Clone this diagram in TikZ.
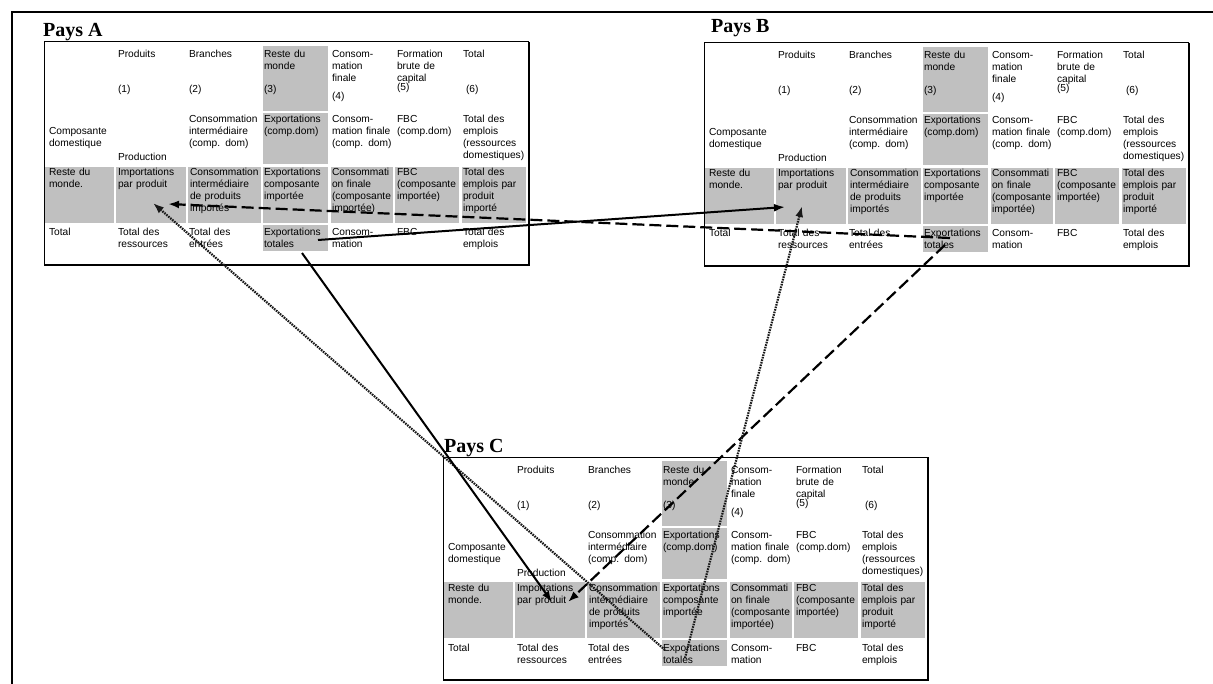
\documentclass[tikz,border=0pt]{standalone}
\usepackage{fontspec}
\setmainfont{Liberation Sans}
\newfontfamily\titlefont{Liberation Serif}
\usetikzlibrary{arrows.meta,calc}
\definecolor{cellgray}{RGB}{192,192,192}
\tikzset{
  cell/.style={fill=cellgray, draw=none, inner sep=0pt, outer sep=0pt, anchor=north west},
  txt/.style={inner sep=0pt, outer sep=0pt, anchor=base west, text width=90pt, align=left, font=\fontsize{10.2}{12}\selectfont},
  paystitle/.style={inner sep=0pt, anchor=base west, font=\titlefont\bfseries\fontsize{20}{23}\selectfont},
  solidarrow/.style={line width=2pt, -{Latex[length=11pt,width=8pt]}},
  dasharrow/.style={line width=2.2pt, dash pattern=on 12pt off 5pt, -{Latex[length=11pt,width=8pt]}},
  dotarrow/.style={line width=2.2pt, black!90, dash pattern=on 1.6pt off 1pt, -{Latex[length=11pt,width=8pt]}},
}
\newcommand\paystab[3]{%
\begin{scope}[shift={(#2,#3)}]
  % gray cells
  \node[cell, minimum width=65pt, minimum height=65pt] (#1-gh3) at (219,4) {};
  \node[cell, minimum width=65pt, minimum height=51pt] (#1-gd3) at (219,71) {};
  \node[cell, minimum width=69pt, minimum height=56pt] (#1-gr0) at (1,125) {};
  \node[cell, minimum width=70pt, minimum height=56pt] (#1-imp) at (72,125) {};
  \node[cell, minimum width=73pt, minimum height=56pt] (#1-gr2) at (144,125) {};
  \node[cell, minimum width=65pt, minimum height=56pt] (#1-gr3) at (219,125) {};
  \node[cell, minimum width=62pt, minimum height=56pt] (#1-gr4) at (287,125) {};
  \node[cell, minimum width=64pt, minimum height=56pt] (#1-gr5) at (351,125) {};
  \node[cell, minimum width=64pt, minimum height=56pt] (#1-gr6) at (418,125) {};
  \node[cell, minimum width=65pt, minimum height=26pt] (#1-exp) at (219,183) {};
  % frame
  \draw[line width=1pt] (485,0) -- (0,0) -- (0,223);
  \draw[line width=2.5pt] (0,223) -- (485,223) -- (485,0);
  % header
  \node[txt] (#1-h1) at (74,16) {Produits};
  \node[txt] (#1-h2) at (145,16) {Branches};
  \node[txt] (#1-h3) at (220,16) {Reste du\\monde};
  \node[txt] (#1-h4) at (288,16) {Consom-\\mation\\finale};
  \node[txt] (#1-h5) at (353,16) {Formation\\brute de\\capital};
  \node[txt] (#1-h6) at (419,16) {Total};
  \node[txt] (#1-n1) at (74,51) {(1)};
  \node[txt] (#1-n2) at (145,51) {(2)};
  \node[txt] (#1-n3) at (220,51) {(3)};
  \node[txt] (#1-n4) at (288,58) {(4)};
  \node[txt] (#1-n5) at (353,49) {(5)};
  \node[txt] (#1-n6) at (422,51) {(6)};
  % domestic row
  \node[txt] (#1-d0) at (5,93) {Composante\\domestique};
  \node[txt] (#1-d1) at (74,119) {Production};
  \node[txt] (#1-d2) at (145,81) {Consommation\\intermédiaire\\(comp. dom)};
  \node[txt] (#1-d3) at (220,81) {Exportations\\(comp.dom)};
  \node[txt] (#1-d4) at (288,81) {Consom-\\mation finale\\(comp. dom)};
  \node[txt] (#1-d5) at (353,81) {FBC\\(comp.dom)};
  \node[txt] (#1-d6) at (419,81) {Total des\\emplois\\(ressources\\domestiques)};
  % rest of world row
  \node[txt] (#1-r0) at (5,134) {Reste du\\monde.};
  \node[txt] (#1-r1) at (74,134) {Importations\\par produit};
  \node[txt] (#1-r2) at (146,134) {Consommation\\intermédiaire\\de produits\\importés};
  \node[txt] (#1-r3) at (220,134) {Exportations\\composante\\importée};
  \node[txt] (#1-r4) at (288,134) {Consommati\\on finale\\(composante\\importée)};
  \node[txt] (#1-r5) at (353,134) {FBC\\(composante\\importée)};
  \node[txt] (#1-r6) at (419,134) {Total des\\emplois par\\produit\\importé};
  % total row
  \node[txt] (#1-s0) at (5,194) {Total};
  \node[txt] (#1-s1) at (74,194) {Total des\\ressources};
  \node[txt] (#1-s2) at (145,194) {Total des\\entrées};
  \node[txt] (#1-s3) at (220,194) {Exportations\\totales};
  \node[txt] (#1-s4) at (288,194) {Consom-\\mation};
  \node[txt] (#1-s5) at (353,194) {FBC};
  \node[txt] (#1-s6) at (419,194) {Total des\\emplois};
\end{scope}}
\begin{document}
\begin{tikzpicture}[x=1pt,y=-1pt]
  \useasboundingbox (0,0) rectangle (1213,684);
  \fill[white] (0,0) rectangle (1213,684);
  \draw[line width=2pt] (12,684) -- (12,12) -- (1213,12);

  \node[paystitle] (A-title) at (43,37) {Pays A};
  \node[paystitle] (B-title) at (711,33) {Pays B};
  \node[paystitle] (C-title) at (444,452) {Pays C};

  \paystab{A}{44}{42}
  \paystab{B}{704}{43}
  \paystab{C}{443}{457}

  \draw[solidarrow] ($(A-exp.north west)+(55,15)$) -- ($(B-imp.north west)+(9,39)$);
  \draw[dasharrow] ($(B-exp.north west)+(27,12)$) -- ($(A-imp.north west)+(52,37)$);
  \draw[dotarrow] ($(C-exp.north west)+(3,10)$) -- ($(A-imp.north west)+(37,36)$);
  \draw[solidarrow] ($(A-exp.north west)+(39,28)$) -- ($(C-imp.north west)+(37,20)$);
  \draw[dasharrow] ($(B-exp.north west)+(22,19)$) -- ($(C-imp.north west)+(53,20)$);
  \draw[dotarrow] ($(C-exp.north west)+(23,18)$) -- ($(B-imp.north west)+(26,38)$);
\end{tikzpicture}
\end{document}
